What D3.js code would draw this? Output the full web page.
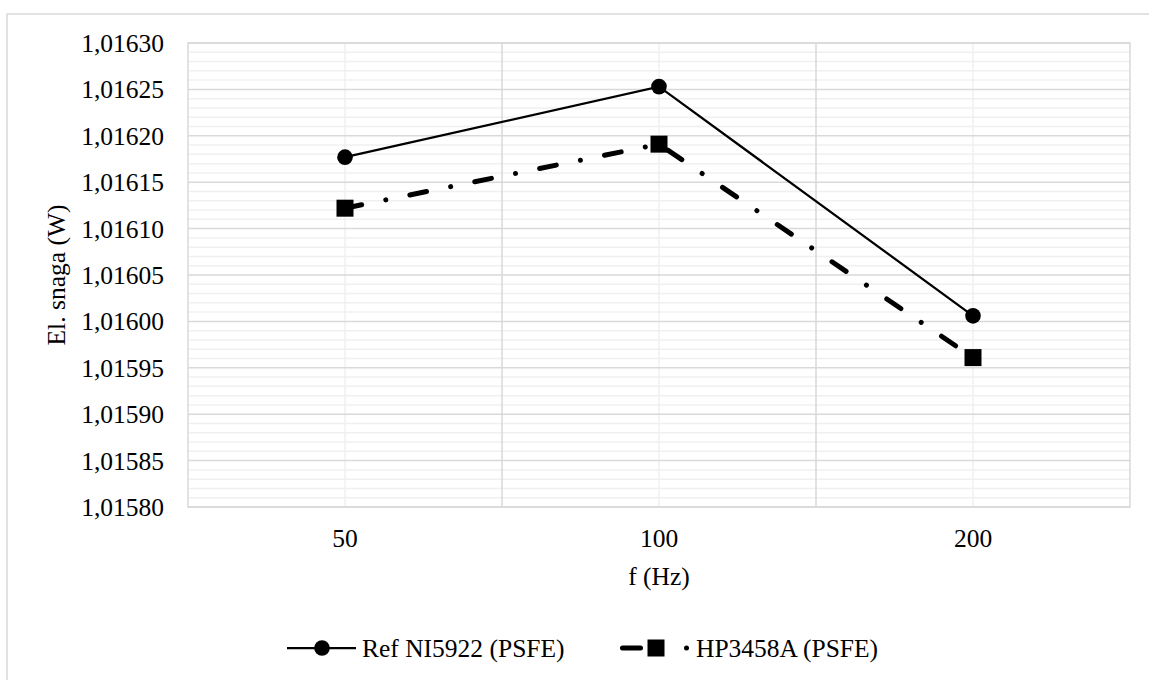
<!DOCTYPE html>
<html><head><meta charset="utf-8">
<script src="https://cdn.jsdelivr.net/npm/d3@7"></script>
<style>html,body{margin:0;padding:0;background:#fff;}svg{display:block;}
svg text{font-family:"Liberation Serif","Times New Roman",Tinos,"DejaVu Serif",serif !important;}</style>
</head><body>
<svg id="chart" width="1149" height="680"></svg>
<script>
const categories = ["50", "100", "200"];
const refValues = [1.016177, 1.016253, 1.016006];
const hpValues = [1.016122, 1.016191, 1.015961];
const yTicks = [1.01580, 1.01585, 1.01590, 1.01595, 1.01600, 1.01605, 1.01610, 1.01615, 1.01620, 1.01625, 1.01630];
const seriesNames = ["Ref NI5922 (PSFE)", "HP3458A (PSFE)"];
const xTitle = "f (Hz)";
const yTitle = "El. snaga (W)";

const svg = d3.select("#chart");
const fs = 25.5;
const m = {left: 188, right: 1130, top: 43, bottom: 507};

// chart border
svg.append("rect").attr("x", 7).attr("y", 14).attr("width", 1160).attr("height", 700)
  .attr("fill", "#fff").attr("stroke", "#d9d9d9").attr("stroke-width", 1.5);

const x = d3.scaleBand().domain(categories).range([m.left, m.right]).paddingInner(0).paddingOuter(0);
const y = d3.scaleLinear().domain([yTicks[0], yTicks[yTicks.length - 1]]).range([m.bottom, m.top]);

const g = svg.append("g");
const minorTicks = d3.range(0, 51).map(i => yTicks[0] + i * 0.00001).filter((d, i) => i % 5 !== 0);
g.selectAll(".hminor").data(minorTicks).join("line")
  .attr("x1", m.left).attr("x2", m.right)
  .attr("y1", d => y(d)).attr("y2", d => y(d))
  .attr("stroke", "#f0f0f0").attr("stroke-width", 1.5);
g.selectAll(".vminor").data(categories).join("line")
  .attr("x1", d => x(d) + x.bandwidth() / 2).attr("x2", d => x(d) + x.bandwidth() / 2)
  .attr("y1", m.top).attr("y2", m.bottom)
  .attr("stroke", "#f0f0f0").attr("stroke-width", 1.5);
g.selectAll(".hmajor").data(yTicks).join("line")
  .attr("x1", m.left).attr("x2", m.right)
  .attr("y1", d => y(d)).attr("y2", d => y(d))
  .attr("stroke", "#d9d9d9").attr("stroke-width", 1.5);
g.selectAll(".vmajor").data(categories.slice(1)).join("line")
  .attr("x1", d => x(d)).attr("x2", d => x(d))
  .attr("y1", m.top).attr("y2", m.bottom)
  .attr("stroke", "#d9d9d9").attr("stroke-width", 1.5);
g.append("rect").attr("x", m.left).attr("y", m.top).attr("width", m.right - m.left).attr("height", m.bottom - m.top)
  .attr("fill", "none").attr("stroke", "#d9d9d9").attr("stroke-width", 1.5);

const fmt = d => d.toFixed(5).replace(".", ",");
const yAxis = d3.axisLeft(y).tickValues(yTicks).tickFormat(fmt).tickSize(0).tickPadding(24);
svg.append("g").attr("transform", `translate(${m.left},0)`).call(yAxis)
  .call(s => s.select(".domain").remove())
  .call(s => s.selectAll("text").style("font-size", fs + "px").attr("fill", "#000")
    .attr("dy", null).attr("dominant-baseline", "central"));

const xAxis = d3.axisBottom(x).tickSize(0).tickPadding(22);
svg.append("g").attr("transform", `translate(0,${m.bottom})`).call(xAxis)
  .call(s => s.select(".domain").remove())
  .call(s => s.selectAll("text").style("font-size", fs + "px").attr("fill", "#000"));

svg.append("text").attr("x", (m.left + m.right) / 2).attr("y", 585).attr("text-anchor", "middle")
  .style("font-size", fs + "px").attr("fill", "#000").text(xTitle);
svg.append("text").attr("transform", `translate(65,${(m.top + m.bottom) / 2}) rotate(-90)`).attr("text-anchor", "middle")
  .style("font-size", fs + "px").attr("fill", "#000").text(yTitle);

const cx = (d, i) => x(categories[i]) + x.bandwidth() / 2;
const line = d3.line().x((d, i) => cx(d, i)).y(d => y(d));

svg.append("path").datum(refValues).attr("d", line).attr("fill", "none").attr("stroke", "#000").attr("stroke-width", 2.25);
svg.selectAll(".c1").data(refValues).join("circle")
  .attr("cx", cx).attr("cy", d => y(d)).attr("r", 7.8).attr("fill", "#000");

svg.append("path").datum(hpValues).attr("d", line).attr("fill", "none").attr("stroke", "#000")
  .attr("stroke-width", 5).attr("stroke-linecap", "round").attr("stroke-linejoin", "round")
  .attr("stroke-dasharray", "17,24.6,0.01,24.6");
const sq = 17;
svg.selectAll(".s2").data(hpValues).join("rect")
  .attr("x", (d, i) => cx(d, i) - sq / 2).attr("y", d => y(d) - sq / 2)
  .attr("width", sq).attr("height", sq).attr("fill", "#000");

const ly = 648;
const leg = svg.append("g");
leg.append("line").attr("x1", 287).attr("x2", 356).attr("y1", ly).attr("y2", ly).attr("stroke", "#000").attr("stroke-width", 2.25);
leg.append("circle").attr("cx", 322).attr("cy", ly).attr("r", 7.8).attr("fill", "#000");
leg.append("text").attr("x", 362).attr("y", ly).attr("dominant-baseline", "central")
  .style("font-size", fs + "px").attr("fill", "#000").text(seriesNames[0]);

leg.append("line").attr("x1", 622.5).attr("x2", 700).attr("y1", ly).attr("y2", ly).attr("stroke", "#000")
  .attr("stroke-width", 5).attr("stroke-linecap", "round").attr("stroke-dasharray", "18,46,0.01,100");
leg.append("rect").attr("x", 656 - sq / 2).attr("y", ly - sq / 2).attr("width", sq).attr("height", sq).attr("fill", "#000");
leg.append("text").attr("x", 696).attr("y", ly).attr("dominant-baseline", "central")
  .style("font-size", fs + "px").attr("fill", "#000").text(seriesNames[1]);
</script>
</body></html>
